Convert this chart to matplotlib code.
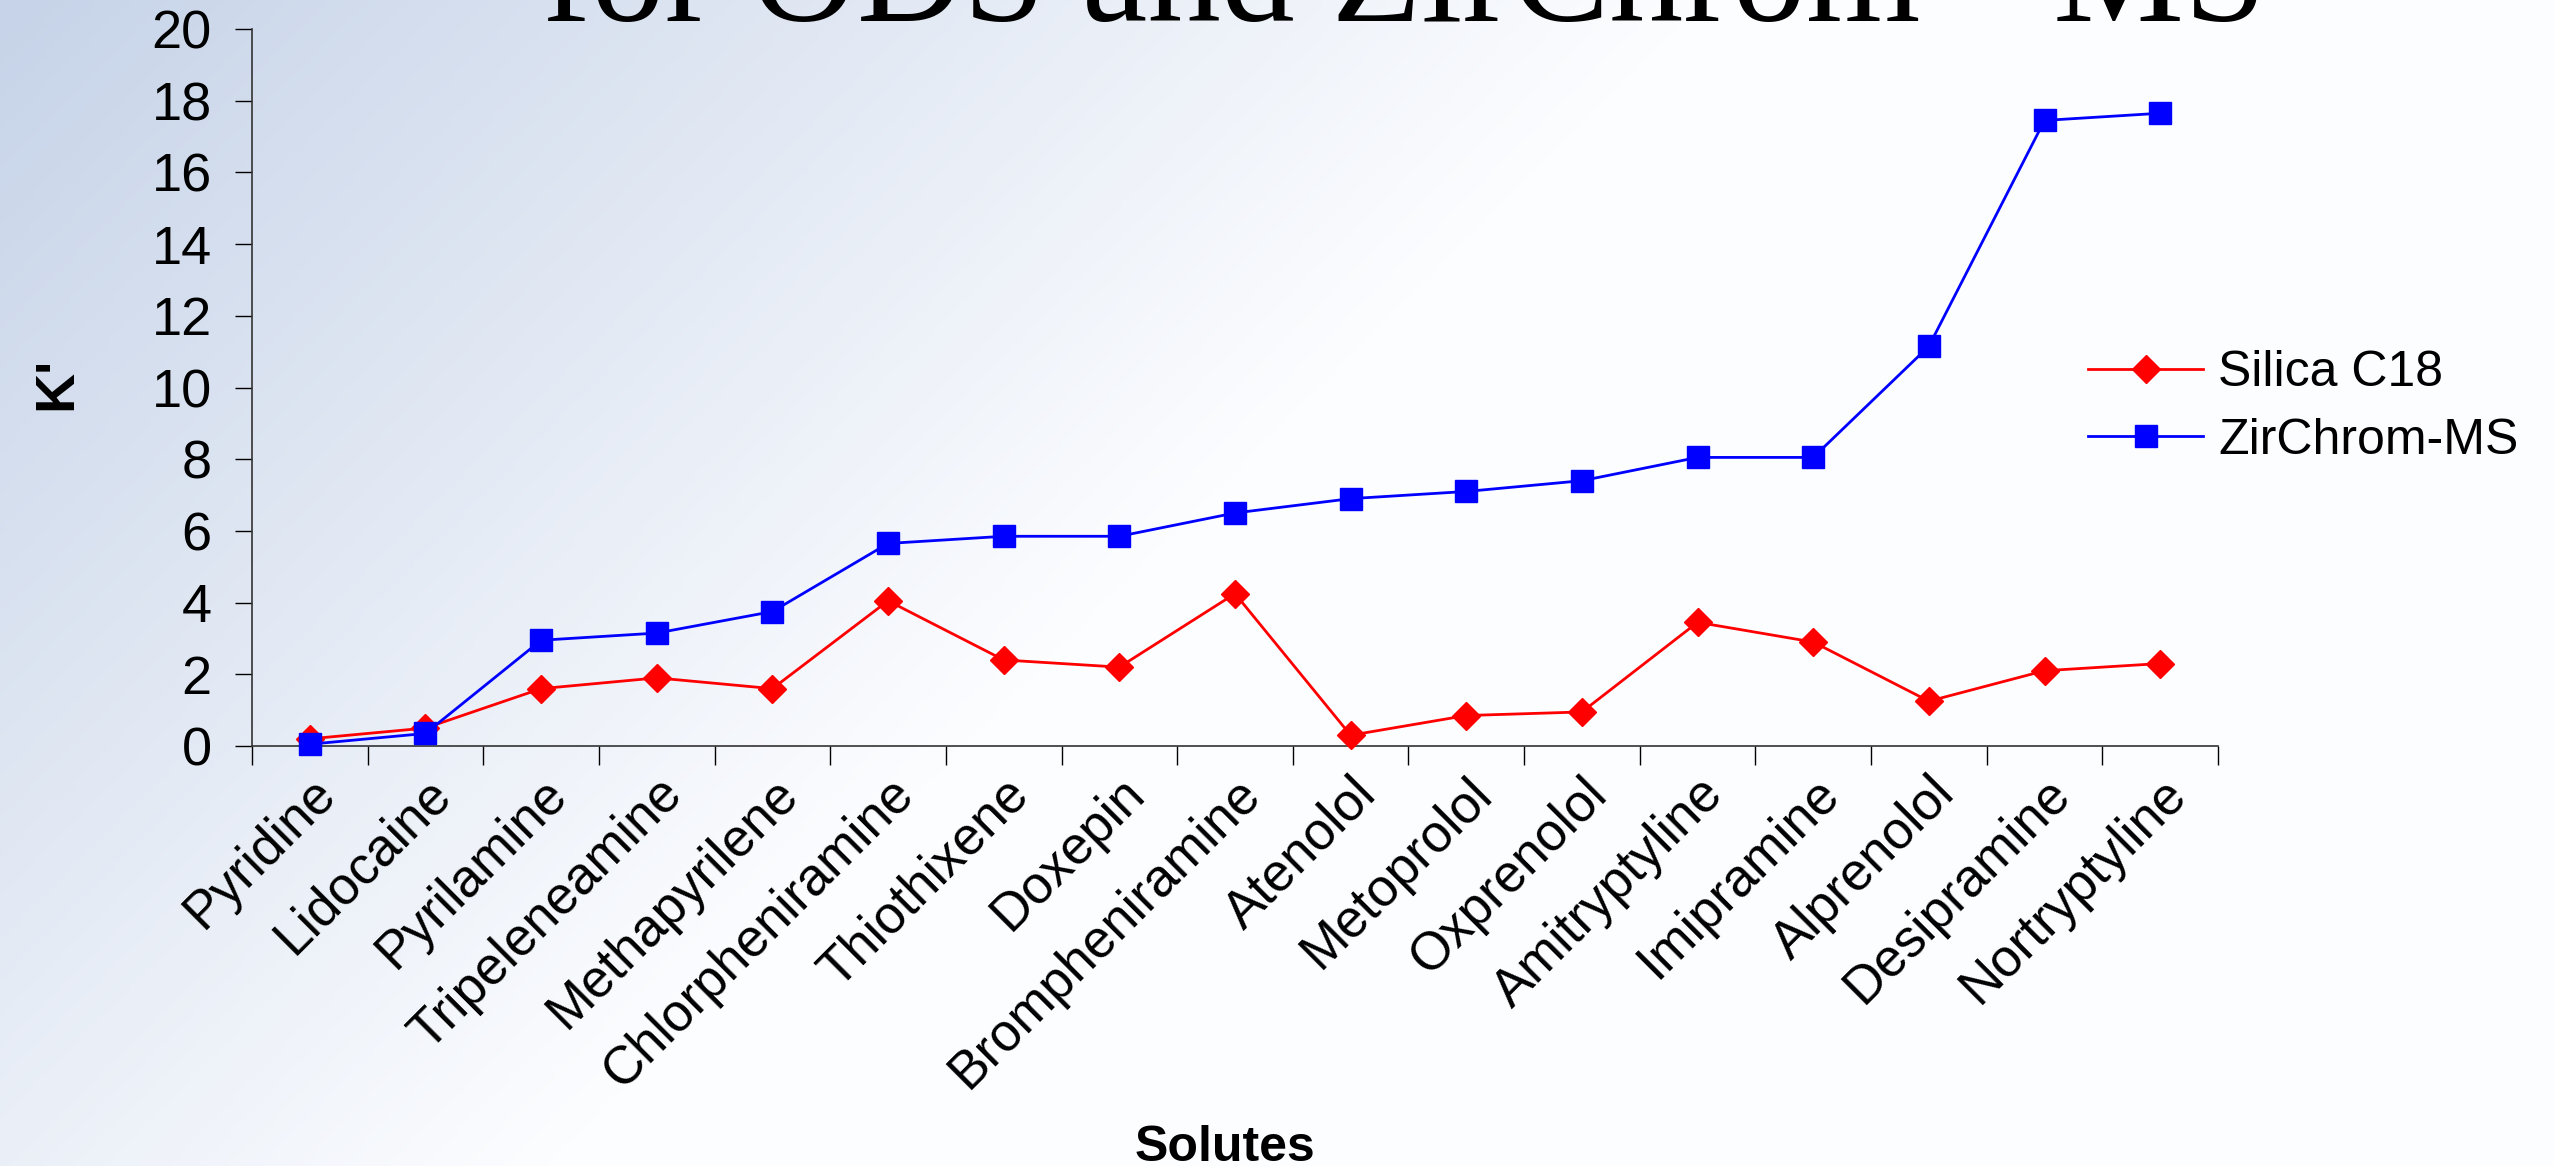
import numpy as np
import matplotlib
matplotlib.use("Agg")
import matplotlib.pyplot as plt

# data
solutes = ["Pyridine", "Lidocaine", "Pyrilamine", "Tripeleneamine", "Methapyrilene",
           "Chlorpheniramine", "Thiothixene", "Doxepin", "Brompheniramine", "Atenolol",
           "Metoprolol", "Oxprenolol", "Amitryptyline", "Imipramine", "Alprenolol",
           "Desipramine", "Nortryptyline"]
silica_c18 = [0.2, 0.5, 1.6, 1.9, 1.6, 4.05, 2.4, 2.2, 4.25, 0.3,
              0.85, 0.95, 3.45, 2.9, 1.25, 2.1, 2.3]
zirchrom_ms = [0.05, 0.35, 2.95, 3.15, 3.75, 5.65, 5.85, 5.85, 6.5, 6.9,
               7.1, 7.4, 8.05, 8.05, 11.15, 17.45, 17.65]
y_ticks = list(range(0, 21, 2))

plt.rcParams['font.family'] = ['Liberation Sans', 'DejaVu Sans']
W, H = 2554, 1166
fig = plt.figure(figsize=(W / 100, H / 100), dpi=100)

# slide background: bluish grey top-left fading to white on the right
bg = fig.add_axes([0, 0, 1, 1], zorder=-10)
u, v = np.meshgrid(np.linspace(0, 1, 512), np.linspace(0, 1, 256))
w = np.clip(1.5 * u + 0.68 * v, 0, 1)[..., None]
c0 = np.array([198, 211, 232]) / 255
c1 = np.array([252, 253, 255]) / 255
bg.imshow(c0 * (1 - w) + c1 * w, aspect="auto", extent=[0, 1, 0, 1], origin="upper")
bg.axis("off")

ax = fig.add_axes([252 / W, 1 - 746 / H, (2218 - 252) / W, (746 - 29) / H])
ax.patch.set_alpha(0)
x = np.arange(len(solutes))
ax.plot(x, silica_c18, color="#ff0000", lw=2, marker="D", ms=14.5, mec="#ff0000",
        label="Silica C18", clip_on=False, zorder=3)
ax.plot(x, zirchrom_ms, color="#0000ff", lw=2, marker="s", ms=16.5, mec="#0000ff",
        label="ZirChrom-MS", clip_on=False, zorder=4)

ax.set_xlim(-0.5, len(solutes) - 0.5)
ax.set_ylim(0, 20)
ax.set_yticks(y_ticks)
ax.tick_params(axis="y", labelsize=39, length=12, width=1, direction="out", pad=17)
ax.set_xticks(x)
ax.set_xticklabels(solutes, rotation=45, ha="right", rotation_mode="anchor", fontsize=38)
ax.tick_params(axis="x", length=0, pad=16)
ax.set_xticks(np.arange(-0.5, len(solutes)), minor=True)
ax.tick_params(axis="x", which="minor", length=14, width=1, direction="out")
for s in ["top", "right"]:
    ax.spines[s].set_visible(False)
for s in ["left", "bottom"]:
    ax.spines[s].set_color("#333333")
    ax.spines[s].set_linewidth(1.2)

fig.text(57 / W, 1 - 383 / H, "K'", fontsize=40, fontweight="bold", rotation=90,
         ha="center", va="center")
fig.text(1225 / W, 5 / H, "Solutes", fontsize=36, fontweight="bold", ha="center", va="baseline")

ax.legend(loc="center left", bbox_to_anchor=(2088 / W, 1 - 407 / H), bbox_transform=fig.transFigure,
          frameon=False, fontsize=36, handlelength=2.3, handletextpad=0.3, labelspacing=0.42,
          borderpad=0, borderaxespad=0)

# slide title, mostly above the top edge
serif = ["Liberation Serif", "DejaVu Serif"]
yb = 1 - 21 / H
fig.text(1920 / W, yb, "for ODS and ZirChrom", family=serif, fontsize=106, ha="right", va="baseline")
fig.text(1928 / W, yb + 70 / H, "\u00ae", family=serif, fontsize=60, ha="left", va="baseline")
fig.text(2267 / W, yb, "-MS", family=serif, fontsize=106, ha="right", va="baseline")

fig.savefig("out.png", dpi=100)
